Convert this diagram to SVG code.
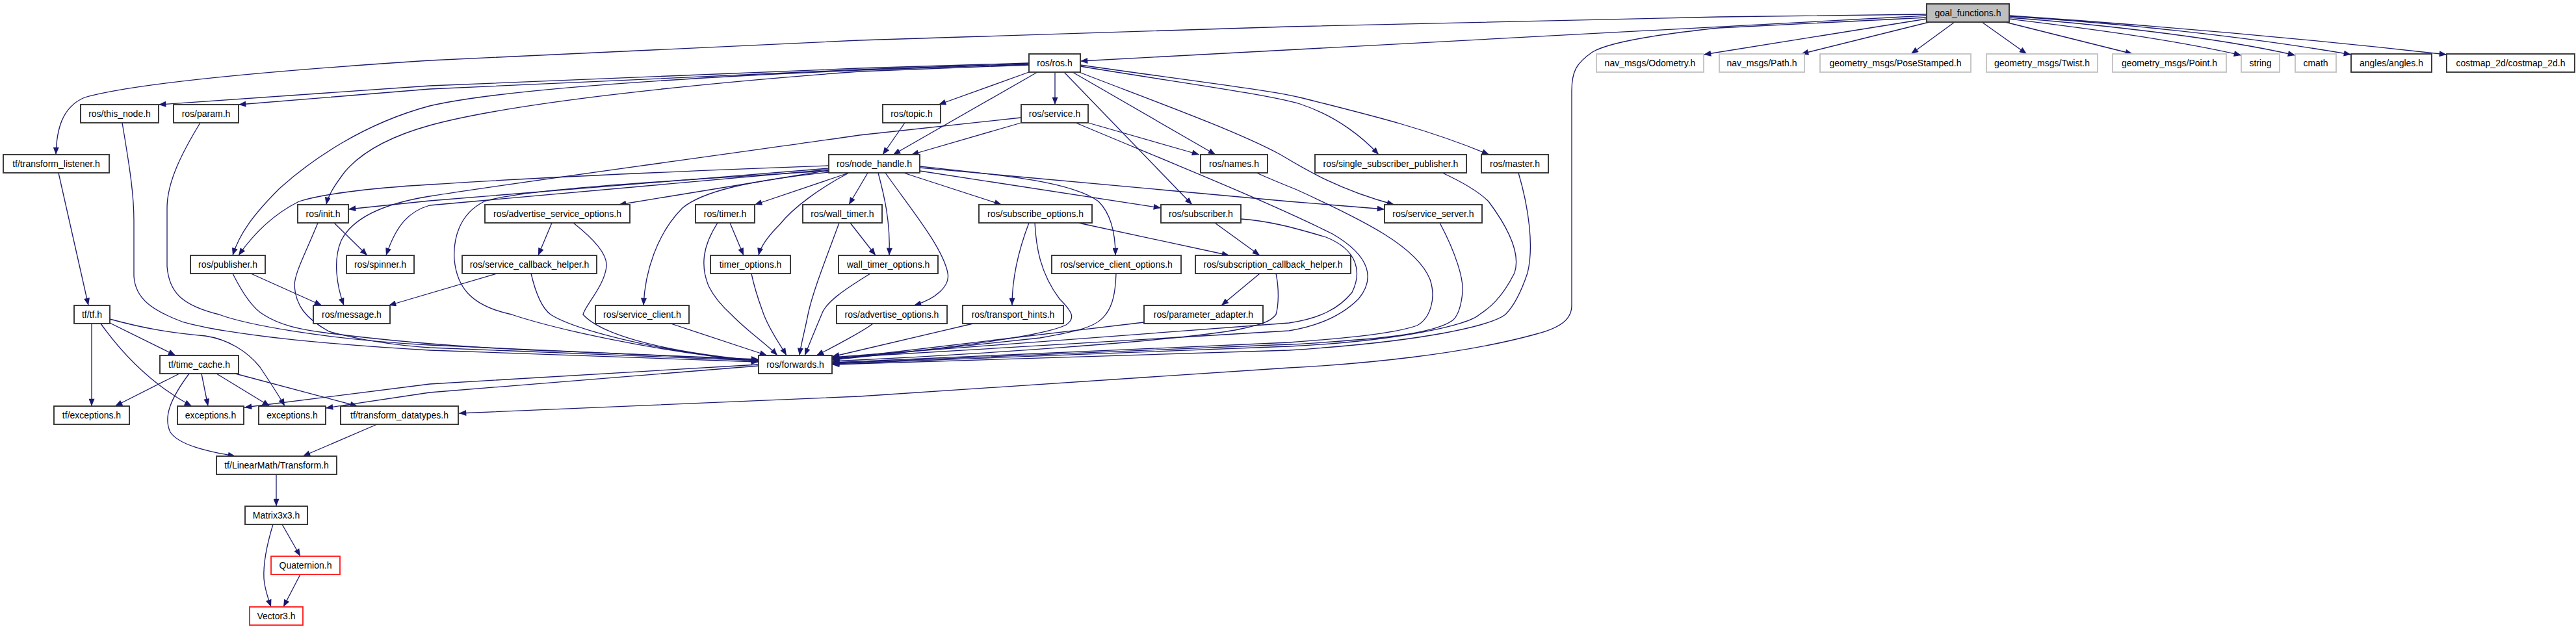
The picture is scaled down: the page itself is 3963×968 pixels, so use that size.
<svg xmlns="http://www.w3.org/2000/svg" width="3963" height="968" viewBox="0 0 3963 968">
<style>
.n rect{fill:#fff;stroke:#333;stroke-width:1.9}
.n.gr rect{stroke:#c4c4c4}
.n.rd rect{stroke:#ff2020}
.n.root rect{fill:#bfbfbf}
.n text{font-family:"Liberation Sans",Arial,sans-serif;font-size:14px;text-anchor:middle;fill:#000}
#edges path{fill:none;stroke:#191970;stroke-width:1.3;marker-end:url(#a)}
</style>
<defs>
<marker id="a" viewBox="0 0 10 8" refX="10" refY="4" markerWidth="12" markerHeight="9" markerUnits="userSpaceOnUse" orient="auto"><path d="M0,0 L10,4 L0,8 z" fill="#191970" stroke="none"/></marker>
</defs>
<rect width="3963" height="968" fill="#fff"/>
<g id="edges">
<path d="M2964,22 L2644,26 L1983,41 L1322,62 L661,93 C400,110 200,130 130,150 C95,165 87,200 86,238"/>
<path d="M2964,24 L1662,94"/>
<path d="M2964,27 L2644,43 C2520,56 2470,68 2450,80 C2425,97 2418,110 2418,140 L2418,470 C2418,492 2400,505 2360,515 C2250,545 2100,560 1983,566 L1322,610 L706,636"/>
<path d="M2964,29 L2621,84"/>
<path d="M2968,34 L2771,83"/>
<path d="M3007,34 L2940,83"/>
<path d="M3049,34 L3118,83"/>
<path d="M3085,34 L3281,83"/>
<path d="M3091,29 C3180,40 3330,58 3448,85"/>
<path d="M3091,27 C3200,35 3400,55 3531,85"/>
<path d="M3091,25 C3250,35 3450,55 3617,84"/>
<path d="M3091,24 C3300,38 3550,60 3764,84"/>
<path d="M1583,97 L1322,105 L661,132 L244,161"/>
<path d="M1583,98 L1322,107 L661,137 L367,161"/>
<path d="M1583,99 L1322,108 C1000,122 760,140 661,163 C560,190 480,245 430,290 C390,330 368,360 358,393"/>
<path d="M1583,100 L1322,110 C1050,130 780,160 661,193 C600,210 555,235 530,265 C515,285 505,300 502,315"/>
<path d="M1583,111 L1444,161"/>
<path d="M1596,111 L1374,238"/>
<path d="M1623,111 L1623,161"/>
<path d="M1637,111 L1834,315"/>
<path d="M1650,111 L1870,238"/>
<path d="M1662,102 C1800,125 1950,145 2000,160 C2060,180 2100,215 2121,238"/>
<path d="M1662,100 C1800,120 1950,138 2000,150 C2120,180 2200,200 2291,238"/>
<path d="M1660,111 C1760,150 1900,200 1970,238 C2010,262 2060,292 2145,315"/>
<path d="M1571,189 L1402,238"/>
<path d="M1674,189 L1845,238"/>
<path d="M1571,181 L1322,208 C1100,240 800,280 661,302 C580,315 540,340 525,370 C512,400 518,440 529,470"/>
<path d="M1655,189 C1800,250 1950,310 2050,360 C2110,395 2115,430 2090,460 C2060,490 2020,503 1983,509 L1280,551"/>
<path d="M1392,189 L1358,238"/>
<path d="M1275,255 C1000,265 800,275 661,284 C560,290 490,300 460,310 C420,330 390,360 367,393"/>
<path d="M1275,259 L661,309 L536,322"/>
<path d="M1275,261 L661,316 C630,325 610,345 594,393"/>
<path d="M1275,263 C1000,280 800,292 745,310 C705,330 697,370 699,400 C703,440 722,470 787,484 C850,505 1000,540 1167,556"/>
<path d="M1275,262 L952,315"/>
<path d="M1306,266 L1161,315"/>
<path d="M1306,266 C1260,290 1220,320 1200,345 C1180,365 1170,380 1167,393"/>
<path d="M1275,265 C1150,278 1080,295 1050,320 C1010,360 992,420 990,470"/>
<path d="M1335,266 L1306,315"/>
<path d="M1351,266 C1360,300 1370,340 1368,393"/>
<path d="M1362,266 C1400,320 1450,380 1458,420 C1462,440 1440,460 1406,470"/>
<path d="M1390,266 L1541,315"/>
<path d="M1415,263 L1786,320"/>
<path d="M1415,256 C1550,270 1650,280 1690,310 C1710,330 1716,360 1716,393"/>
<path d="M1415,258 L1983,310 L2130,322"/>
<path d="M188,189 C200,260 206,300 206,340 L206,425 C208,460 235,478 280,495 C350,515 500,530 661,539 L1167,557"/>
<path d="M308,189 C280,235 257,280 257,320 L257,410 C260,450 280,470 337,484 C380,500 500,522 661,531 L1167,554"/>
<path d="M358,421 C375,455 390,475 405,484 C430,500 460,507 500,512 C600,525 700,533 800,538 L1167,553"/>
<path d="M489,343 C470,390 453,420 453,440 C455,470 470,490 506,510 C560,525 620,532 661,535 L1167,555"/>
<path d="M386,421 L495,470"/>
<path d="M514,343 L565,393"/>
<path d="M764,421 L598,470"/>
<path d="M817,421 C825,455 835,475 847,484 C880,505 1000,540 1167,556"/>
<path d="M849,343 L828,393"/>
<path d="M882,343 C910,365 935,390 933,410 C930,440 900,470 897,484 C920,510 1000,540 1167,555"/>
<path d="M1032,498 L1180,547"/>
<path d="M1104,343 C1080,380 1078,410 1090,440 C1100,460 1115,475 1125,484 C1150,510 1180,530 1196,547"/>
<path d="M1123,343 L1144,393"/>
<path d="M1156,421 C1162,450 1170,470 1175,484 C1185,510 1200,530 1210,547"/>
<path d="M1291,343 C1270,400 1250,450 1243,484 C1238,510 1232,530 1230,547"/>
<path d="M1308,343 L1347,393"/>
<path d="M1339,421 C1300,445 1270,465 1264,484 C1255,505 1245,530 1238,547"/>
<path d="M1343,498 C1330,508 1290,530 1256,547"/>
<path d="M1497,498 L1280,549"/>
<path d="M1583,343 C1565,390 1557,430 1557,470"/>
<path d="M1592,343 C1594,380 1600,420 1630,460 C1650,480 1655,490 1640,500 C1600,520 1400,543 1280,552"/>
<path d="M1659,343 L1891,393"/>
<path d="M1717,421 C1716,450 1712,470 1701,484 C1690,500 1670,508 1600,520 L1280,554"/>
<path d="M1869,343 L1938,393"/>
<path d="M1909,337 C1950,340 1983,348 2040,365 C2090,385 2095,420 2080,450 C2060,475 2030,490 1983,497 L1280,550"/>
<path d="M1938,421 L1879,470"/>
<path d="M1963,421 C1968,445 1967,470 1963,484 C1955,495 1940,500 1900,508 C1800,525 1500,546 1280,556"/>
<path d="M1760,496 L1280,553"/>
<path d="M1933,266 C1960,278 1975,284 1995,292 C2100,340 2180,380 2200,430 C2210,460 2200,490 2180,501 C2140,515 2050,522 1983,527 L1280,558"/>
<path d="M2215,343 C2240,390 2252,430 2250,450 C2248,470 2244,484 2236,492 C2220,505 2180,515 2100,522 C2050,526 2000,530 1983,530 L1280,559"/>
<path d="M2219,266 C2260,285 2280,300 2290,310 C2320,350 2340,390 2330,420 C2310,460 2290,475 2276,484 C2260,500 2150,525 1983,533 L1280,560"/>
<path d="M2336,266 C2352,320 2360,380 2350,420 C2340,450 2330,470 2316,484 C2295,500 2200,525 1983,539 L1280,561"/>
<path d="M1167,561 L661,591 L376,627"/>
<path d="M1167,563 L661,604 L501,628"/>
<path d="M90,266 L136,470"/>
<path d="M141,498 L141,625"/>
<path d="M155,498 C185,540 230,590 295,625"/>
<path d="M169,497 L270,547"/>
<path d="M169,491 C220,505 260,512 316,517 C350,522 380,540 400,565 C420,595 430,610 438,625"/>
<path d="M276,575 L177,625"/>
<path d="M310,575 L320,625"/>
<path d="M333,575 L415,625"/>
<path d="M362,575 L550,625"/>
<path d="M291,575 C265,610 250,640 262,665 C275,685 320,695 362,702"/>
<path d="M580,653 L466,702"/>
<path d="M425,730 L425,779"/>
<path d="M434,807 L462,856"/>
<path d="M420,807 C410,840 405,870 406,890 C407,905 412,920 417,934"/>
<path d="M462,884 L436,934"/>
</g>
<g id="n_goal_functions" class="n root"><rect x="2964" y="6" width="127" height="28"/><text x="3027.5" y="25">goal_functions.h</text></g>
<g id="n_ros_ros" class="n"><rect x="1583" y="83" width="79" height="28"/><text x="1622.5" y="102">ros/ros.h</text></g>
<g id="n_odometry" class="n gr"><rect x="2456" y="83" width="165" height="28"/><text x="2538.5" y="102">nav_msgs/Odometry.h</text></g>
<g id="n_path" class="n gr"><rect x="2645" y="83" width="131" height="28"/><text x="2710.5" y="102">nav_msgs/Path.h</text></g>
<g id="n_posestamped" class="n gr"><rect x="2800" y="83" width="232" height="28"/><text x="2916" y="102">geometry_msgs/PoseStamped.h</text></g>
<g id="n_twist" class="n gr"><rect x="3056" y="83" width="171" height="28"/><text x="3141.5" y="102">geometry_msgs/Twist.h</text></g>
<g id="n_point" class="n gr"><rect x="3250" y="83" width="175" height="28"/><text x="3337.5" y="102">geometry_msgs/Point.h</text></g>
<g id="n_string" class="n gr"><rect x="3448" y="83" width="59" height="28"/><text x="3477.5" y="102">string</text></g>
<g id="n_cmath" class="n gr"><rect x="3531" y="83" width="63" height="28"/><text x="3562.5" y="102">cmath</text></g>
<g id="n_angles" class="n"><rect x="3617" y="83" width="124" height="28"/><text x="3679" y="102">angles/angles.h</text></g>
<g id="n_costmap" class="n"><rect x="3764" y="83" width="197" height="28"/><text x="3862.5" y="102">costmap_2d/costmap_2d.h</text></g>
<g id="n_this_node" class="n"><rect x="124" y="161" width="120" height="28"/><text x="184" y="180">ros/this_node.h</text></g>
<g id="n_param" class="n"><rect x="267" y="161" width="100" height="28"/><text x="317" y="180">ros/param.h</text></g>
<g id="n_topic" class="n"><rect x="1358" y="161" width="89" height="28"/><text x="1402.5" y="180">ros/topic.h</text></g>
<g id="n_service" class="n"><rect x="1571" y="161" width="103" height="28"/><text x="1622.5" y="180">ros/service.h</text></g>
<g id="n_transform_listener" class="n"><rect x="5" y="238" width="163" height="28"/><text x="86.5" y="257">tf/transform_listener.h</text></g>
<g id="n_node_handle" class="n"><rect x="1275" y="238" width="140" height="28"/><text x="1345" y="257">ros/node_handle.h</text></g>
<g id="n_names" class="n"><rect x="1847" y="238" width="103" height="28"/><text x="1898.5" y="257">ros/names.h</text></g>
<g id="n_ssp" class="n"><rect x="2023" y="238" width="233" height="28"/><text x="2139.5" y="257">ros/single_subscriber_publisher.h</text></g>
<g id="n_master" class="n"><rect x="2279" y="238" width="103" height="28"/><text x="2330.5" y="257">ros/master.h</text></g>
<g id="n_init" class="n"><rect x="458" y="315" width="78" height="28"/><text x="497" y="334">ros/init.h</text></g>
<g id="n_aso" class="n"><rect x="746" y="315" width="223" height="28"/><text x="857.5" y="334">ros/advertise_service_options.h</text></g>
<g id="n_timer" class="n"><rect x="1070" y="315" width="91" height="28"/><text x="1115.5" y="334">ros/timer.h</text></g>
<g id="n_wall_timer" class="n"><rect x="1235" y="315" width="122" height="28"/><text x="1296" y="334">ros/wall_timer.h</text></g>
<g id="n_subscribe_options" class="n"><rect x="1506" y="315" width="174" height="28"/><text x="1593" y="334">ros/subscribe_options.h</text></g>
<g id="n_subscriber" class="n"><rect x="1786" y="315" width="123" height="28"/><text x="1847.5" y="334">ros/subscriber.h</text></g>
<g id="n_service_server" class="n"><rect x="2130" y="315" width="150" height="28"/><text x="2205" y="334">ros/service_server.h</text></g>
<g id="n_publisher" class="n"><rect x="293" y="393" width="115" height="28"/><text x="350.5" y="412">ros/publisher.h</text></g>
<g id="n_spinner" class="n"><rect x="533" y="393" width="104" height="28"/><text x="585" y="412">ros/spinner.h</text></g>
<g id="n_sch" class="n"><rect x="711" y="393" width="207" height="28"/><text x="814.5" y="412">ros/service_callback_helper.h</text></g>
<g id="n_timer_options" class="n"><rect x="1093" y="393" width="123" height="28"/><text x="1154.5" y="412">timer_options.h</text></g>
<g id="n_wall_timer_options" class="n"><rect x="1290" y="393" width="153" height="28"/><text x="1366.5" y="412">wall_timer_options.h</text></g>
<g id="n_sco" class="n"><rect x="1618" y="393" width="199" height="28"/><text x="1717.5" y="412">ros/service_client_options.h</text></g>
<g id="n_scbh" class="n"><rect x="1839" y="393" width="239" height="28"/><text x="1958.5" y="412">ros/subscription_callback_helper.h</text></g>
<g id="n_tf" class="n"><rect x="114" y="470" width="55" height="28"/><text x="141.5" y="489">tf/tf.h</text></g>
<g id="n_message" class="n"><rect x="482" y="470" width="118" height="28"/><text x="541" y="489">ros/message.h</text></g>
<g id="n_service_client" class="n"><rect x="916" y="470" width="144" height="28"/><text x="988" y="489">ros/service_client.h</text></g>
<g id="n_advertise_options" class="n"><rect x="1287" y="470" width="170" height="28"/><text x="1372" y="489">ros/advertise_options.h</text></g>
<g id="n_transport_hints" class="n"><rect x="1481" y="470" width="155" height="28"/><text x="1558.5" y="489">ros/transport_hints.h</text></g>
<g id="n_parameter_adapter" class="n"><rect x="1760" y="470" width="183" height="28"/><text x="1851.5" y="489">ros/parameter_adapter.h</text></g>
<g id="n_time_cache" class="n"><rect x="246" y="547" width="121" height="28"/><text x="306.5" y="566">tf/time_cache.h</text></g>
<g id="n_forwards" class="n"><rect x="1167" y="547" width="113" height="28"/><text x="1223.5" y="566">ros/forwards.h</text></g>
<g id="n_tf_exceptions" class="n"><rect x="83" y="625" width="116" height="28"/><text x="141" y="644">tf/exceptions.h</text></g>
<g id="n_exceptions1" class="n"><rect x="273" y="625" width="102" height="28"/><text x="324" y="644">exceptions.h</text></g>
<g id="n_exceptions2" class="n"><rect x="398" y="625" width="103" height="28"/><text x="449.5" y="644">exceptions.h</text></g>
<g id="n_transform_datatypes" class="n"><rect x="524" y="625" width="181" height="28"/><text x="614.5" y="644">tf/transform_datatypes.h</text></g>
<g id="n_transform" class="n"><rect x="333" y="702" width="185" height="28"/><text x="425.5" y="721">tf/LinearMath/Transform.h</text></g>
<g id="n_matrix" class="n"><rect x="377" y="779" width="96" height="28"/><text x="425" y="798">Matrix3x3.h</text></g>
<g id="n_quaternion" class="n rd"><rect x="417" y="856" width="106" height="28"/><text x="470" y="875">Quaternion.h</text></g>
<g id="n_vector3" class="n rd"><rect x="384" y="934" width="82" height="28"/><text x="425" y="953">Vector3.h</text></g>
</svg>
